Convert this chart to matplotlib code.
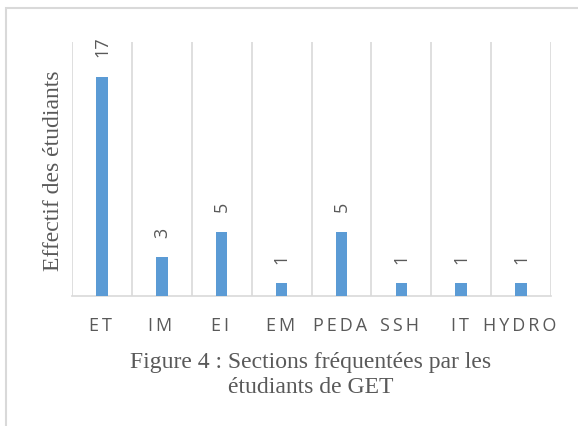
import numpy as np
import matplotlib.pyplot as plt

sections = ['ET', 'IM', 'EI', 'EM', 'PEDA', 'SSH', 'IT', 'HYDRO']
effectifs = [17, 3, 5, 1, 5, 1, 1, 1]

grey = '#595959'
grid_col = '#d9d9d9'
bar_col = '#5b9bd5'

fig = plt.figure(figsize=(5.78, 4.26), dpi=100)

# outer frame (cut at right and bottom like the original)
frame = plt.Rectangle((6 / 578, -0.1), 1.2, (426 - 8) / 426 + 0.1,
                      transform=fig.transFigure, fill=False,
                      edgecolor=grid_col, linewidth=1.5)
fig.patches.append(frame)

# plot area in pixels: x 72..551, y 42..296
ax = fig.add_axes([72 / 578, (426 - 296) / 426, (551 - 72) / 578, (296 - 42) / 426])

x = np.arange(len(sections))
ax.bar(x, effectifs, width=0.19, color=bar_col, zorder=3)

ax.set_xlim(-0.5, len(sections) - 0.5)
ax.set_ylim(0, 19.7)

# vertical separators between categories
for b in np.arange(-0.5, len(sections), 1.0):
    ax.axvline(b, color=grid_col, linewidth=1.2, zorder=1)

for s in ['top', 'right', 'left']:
    ax.spines[s].set_visible(False)
ax.spines['bottom'].set_color(grid_col)
ax.spines['bottom'].set_linewidth(1.2)

ax.set_yticks([])
ax.set_xticks(x)
# letter-spaced labels (trailing space like the original)
spaced = ['\u2009'.join(s) + '\u2009' for s in sections]
ax.set_xticklabels(spaced, fontsize=13, color=grey,
                   family=['Open Sans', 'DejaVu Sans'])
ax.tick_params(axis='x', length=0, pad=15)

# value labels, rotated
for xi, v in zip(x, effectifs):
    ax.annotate(str(v), xy=(xi, v), xytext=(0, 14), textcoords='offset points',
                ha='center', va='bottom', rotation=90, fontsize=13,
                color=grey, family='Open Sans')

fig.text(54 / 578, 1 - 171 / 426, 'Effectif des étudiants', rotation=90,
         ha='center', va='center', fontsize=17, color=grey,
         family='Liberation Serif')

fig.text(311 / 578, 1 - 375 / 426,
         'Figure 4 : Sections fréquentées par les\nétudiants de GET',
         ha='center', va='center', fontsize=17, color=grey,
         family='Liberation Serif', linespacing=1.25)

fig.savefig('out.png', dpi=100)
